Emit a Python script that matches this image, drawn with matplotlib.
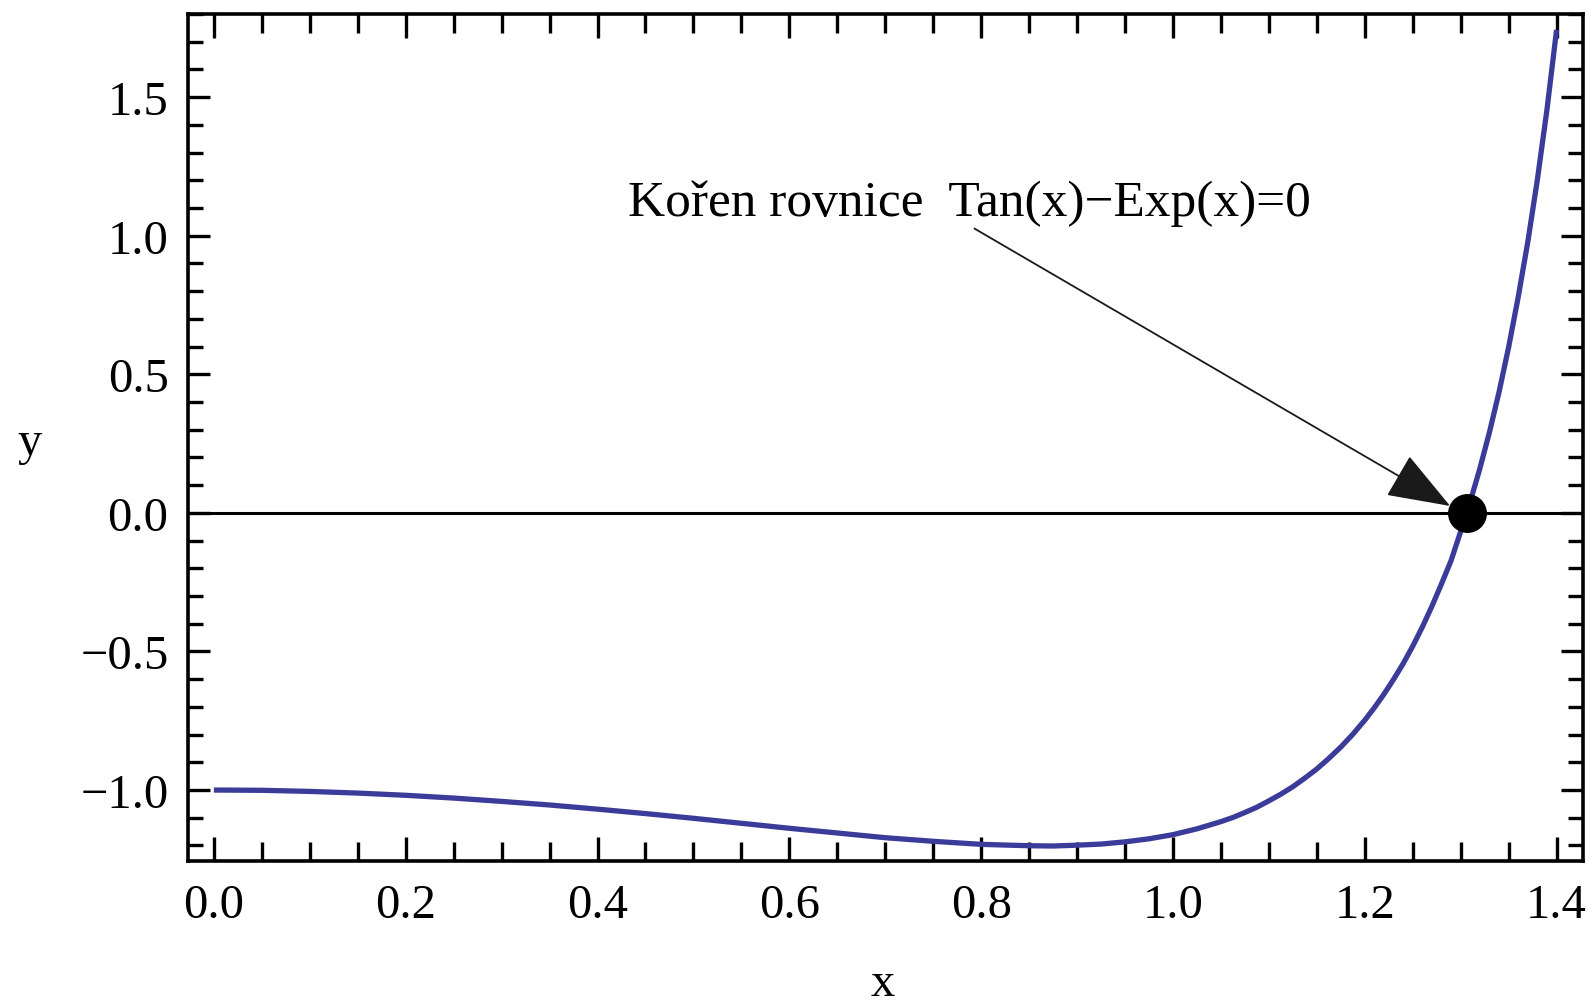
import matplotlib
matplotlib.use("Agg")
import matplotlib.pyplot as plt
from matplotlib.ticker import MultipleLocator

# values, Tan(x) - Exp(x)
x_vals = [0.0, 0.05, 0.10, 0.15, 0.20, 0.25, 0.30, 0.35, 0.40, 0.45,
          0.50, 0.55, 0.60, 0.65, 0.70, 0.75, 0.80, 0.85, 0.875, 0.90,
          0.925, 0.95, 0.975, 1.00, 1.025, 1.05, 1.0625, 1.075, 1.0875, 1.10,
          1.1125, 1.125, 1.1375, 1.15, 1.1625, 1.175, 1.1875, 1.20, 1.21, 1.22,
          1.23, 1.24, 1.25, 1.26, 1.27, 1.28, 1.29, 1.30, 1.31, 1.32,
          1.33, 1.34, 1.35, 1.36, 1.37, 1.38, 1.39, 1.40]
y_vals = [-1.000, -1.001, -1.005, -1.011, -1.019, -1.029, -1.041, -1.054, -1.069, -1.085,
          -1.102, -1.120, -1.138, -1.155, -1.172, -1.185, -1.196, -1.201, -1.202, -1.199,
          -1.195, -1.187, -1.176, -1.161, -1.140, -1.114, -1.099, -1.081, -1.062, -1.039,
          -1.015, -0.988, -0.957, -0.924, -0.886, -0.845, -0.799, -0.748, -0.703, -0.654,
          -0.601, -0.544, -0.481, -0.412, -0.337, -0.256, -0.172, -0.067, 0.041, 0.160,
          0.291, 0.436, 0.598, 0.779, 0.978, 1.203, 1.456, 1.743]

root_x = 1.3063
root_y = 0.0

xticks = [0.0, 0.2, 0.4, 0.6, 0.8, 1.0, 1.2, 1.4]
xtick_labels = ["0.0", "0.2", "0.4", "0.6", "0.8", "1.0", "1.2", "1.4"]
yticks = [-1.0, -0.5, 0.0, 0.5, 1.0, 1.5]
ytick_labels = ["\u22121.0", "\u22120.5", "0.0", "0.5", "1.0", "1.5"]

label_text = "Kořen rovnice  Tan(x)\u2212Exp(x)=0"

plt.rcParams['font.family'] = ['Liberation Serif', 'DejaVu Serif']

fig = plt.figure(figsize=(15.89, 10.03), dpi=100)
ax = fig.add_axes([0.1183, 0.1406, 0.9962 - 0.1183, 0.985 - 0.1406])

ax.plot(x_vals, y_vals, color='#3b3b9a', lw=3.8, solid_capstyle='butt',
        solid_joinstyle='round', zorder=3)
ax.axhline(0, color='black', lw=2.2, zorder=2)
ax.plot([root_x], [root_y], 'o', color='black', ms=27, zorder=4)

ax.annotate(label_text, xy=(1.289, 0.025), xytext=(0.432, 1.12),
            fontsize=37, ha='left', va='center',
            arrowprops=dict(arrowstyle='-|>,head_length=1.35,head_width=0.5',
                            color='#1a1a1a', lw=1.3, mutation_scale=30,
                            shrinkA=0, shrinkB=0, relpos=(0.5, 0.0)))

ax.set_xlim(-0.027, 1.4275)
ax.set_ylim(-1.256, 1.80)

ax.set_xticks(xticks)
ax.set_xticklabels(xtick_labels)
ax.set_yticks(yticks)
ax.set_yticklabels(ytick_labels)
ax.xaxis.set_minor_locator(MultipleLocator(0.05))
ax.yaxis.set_minor_locator(MultipleLocator(0.1))

ax.tick_params(which='both', direction='in', top=True, right=True, width=2.4,
               labelsize=35, colors='black')
ax.tick_params(axis='x', which='major', length=17, pad=16)
ax.tick_params(axis='x', which='minor', length=14)
ax.tick_params(axis='y', which='major', length=16, pad=14)
ax.tick_params(axis='y', which='minor', length=11)
for s in ax.spines.values():
    s.set_linewidth(2.6)

fig.text(883 / 1589, 1 - 996 / 1003, "x", fontsize=35, ha='center', va='baseline')
fig.text(30 / 1589, 1 - 455 / 1003, "y", fontsize=35, ha='center', va='baseline')

fig.savefig("out.png", dpi=100)
